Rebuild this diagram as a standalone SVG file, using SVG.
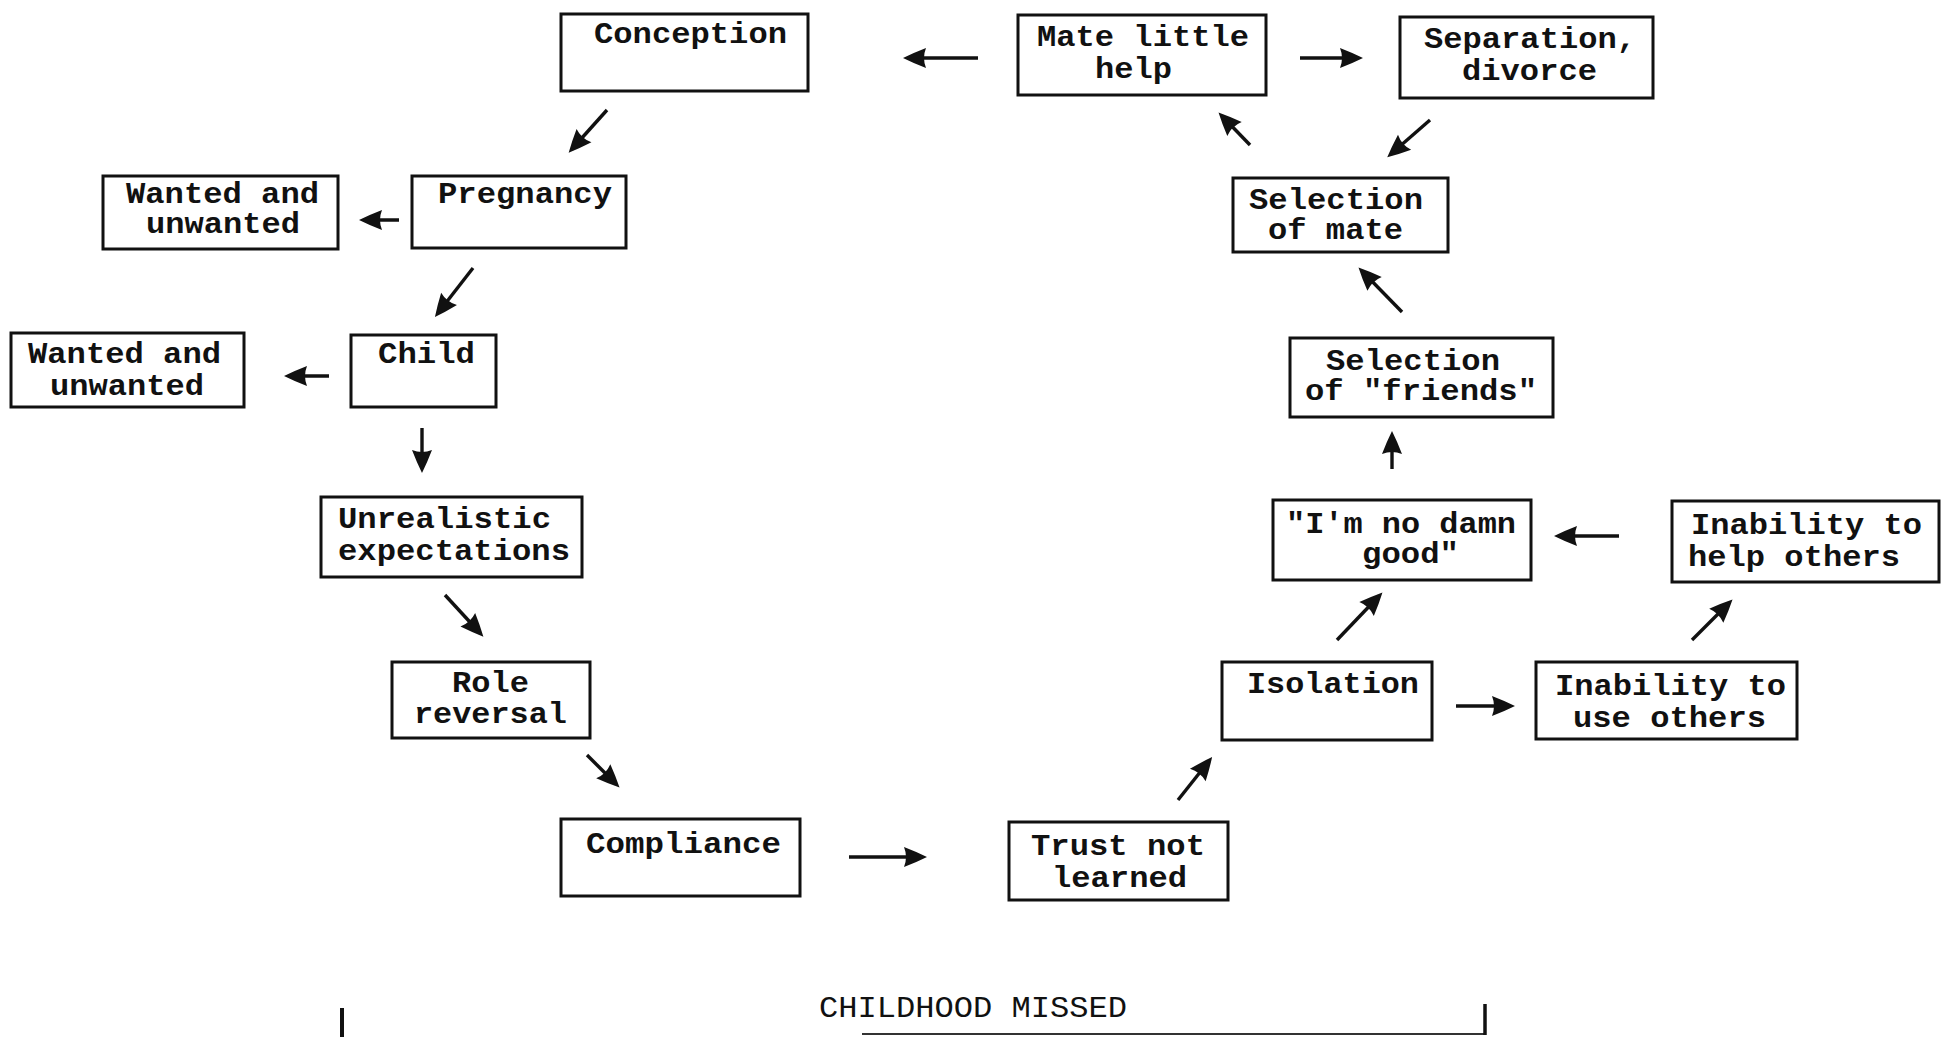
<svg xmlns="http://www.w3.org/2000/svg" width="1942" height="1037" viewBox="0 0 1942 1037">
<style>
.box{fill:#fff;stroke:#111;stroke-width:3}
.t{font-family:"Liberation Mono","DejaVu Sans Mono",monospace;font-weight:bold;font-size:29px;fill:#111}
.c{stroke:#111;stroke-width:3.4;fill:none;marker-end:url(#ah)}
</style>
<defs>
<marker id="ah" markerUnits="userSpaceOnUse" markerWidth="24" markerHeight="22" viewBox="0 0 24 22" refX="19" refY="11" orient="auto">
<path d="M1,1 Q14,6 24,11 Q14,16 1,21 Q5,11 1,1 Z" fill="#111"/>
</marker>
</defs>
<rect width="1942" height="1037" fill="#fff"/>

<g id="connectors">
<line class="c" x1="978" y1="58" x2="908" y2="58"/>
<line class="c" x1="1300" y1="58" x2="1358" y2="58"/>
<line class="c" x1="1430" y1="120" x2="1391" y2="154"/>
<line class="c" x1="1250" y1="145" x2="1222" y2="116"/>
<line class="c" x1="607" y1="110" x2="572" y2="149"/>
<line class="c" x1="399" y1="220" x2="364" y2="220"/>
<line class="c" x1="473" y1="268" x2="438" y2="313"/>
<line class="c" x1="329" y1="376" x2="289" y2="376"/>
<line class="c" x1="422" y1="428" x2="422" y2="468"/>
<line class="c" x1="445" y1="595" x2="480" y2="633"/>
<line class="c" x1="587" y1="755" x2="616" y2="784"/>
<line class="c" x1="849" y1="857" x2="922" y2="857"/>
<line class="c" x1="1178" y1="800" x2="1209" y2="761"/>
<line class="c" x1="1456" y1="706" x2="1510" y2="706"/>
<line class="c" x1="1337" y1="640" x2="1379" y2="596"/>
<line class="c" x1="1692" y1="640" x2="1729" y2="603"/>
<line class="c" x1="1619" y1="536" x2="1559" y2="536"/>
<line class="c" x1="1392" y1="469" x2="1392" y2="436"/>
<line class="c" x1="1402" y1="312" x2="1362" y2="271"/>
</g>

<g id="n-conception"><rect class="box" x="561" y="14" width="247" height="77"/><text class="t" x="594" y="43" textLength="193" lengthAdjust="spacingAndGlyphs">Conception</text></g>
<g id="n-mate"><rect class="box" x="1018" y="15" width="248" height="80"/><text class="t" x="1037" y="46" textLength="212" lengthAdjust="spacingAndGlyphs">Mate little</text><text class="t" x="1095" y="78" textLength="77" lengthAdjust="spacingAndGlyphs">help</text></g>
<g id="n-separation"><rect class="box" x="1400" y="17" width="253" height="81"/><text class="t" x="1424" y="48" textLength="212" lengthAdjust="spacingAndGlyphs">Separation,</text><text class="t" x="1462" y="80" textLength="135" lengthAdjust="spacingAndGlyphs">divorce</text></g>
<g id="n-wanted1"><rect class="box" x="103" y="176" width="235" height="73"/><text class="t" x="126" y="203" textLength="193" lengthAdjust="spacingAndGlyphs">Wanted and</text><text class="t" x="146" y="233" textLength="154" lengthAdjust="spacingAndGlyphs">unwanted</text></g>
<g id="n-pregnancy"><rect class="box" x="412" y="176" width="214" height="72"/><text class="t" x="438" y="203" textLength="174" lengthAdjust="spacingAndGlyphs">Pregnancy</text></g>
<g id="n-selmate"><rect class="box" x="1233" y="178" width="215" height="74"/><text class="t" x="1249" y="209" textLength="174" lengthAdjust="spacingAndGlyphs">Selection</text><text class="t" x="1268" y="239" textLength="135" lengthAdjust="spacingAndGlyphs">of mate</text></g>
<g id="n-wanted2"><rect class="box" x="11" y="333" width="233" height="74"/><text class="t" x="28" y="363" textLength="193" lengthAdjust="spacingAndGlyphs">Wanted and</text><text class="t" x="50" y="395" textLength="154" lengthAdjust="spacingAndGlyphs">unwanted</text></g>
<g id="n-child"><rect class="box" x="351" y="335" width="145" height="72"/><text class="t" x="378" y="363" textLength="97" lengthAdjust="spacingAndGlyphs">Child</text></g>
<g id="n-friends"><rect class="box" x="1290" y="338" width="263" height="79"/><text class="t" x="1326" y="370" textLength="174" lengthAdjust="spacingAndGlyphs">Selection</text><text class="t" x="1305" y="400" textLength="232" lengthAdjust="spacingAndGlyphs">of "friends"</text></g>
<g id="n-unrealistic"><rect class="box" x="321" y="497" width="261" height="80"/><text class="t" x="338" y="528" textLength="213" lengthAdjust="spacingAndGlyphs">Unrealistic</text><text class="t" x="338" y="560" textLength="232" lengthAdjust="spacingAndGlyphs">expectations</text></g>
<g id="n-nogood"><rect class="box" x="1273" y="500" width="258" height="80"/><text class="t" x="1286" y="533" textLength="230" lengthAdjust="spacingAndGlyphs">"I'm no damn</text><text class="t" x="1362" y="563" textLength="97" lengthAdjust="spacingAndGlyphs">good"</text></g>
<g id="n-helpothers"><rect class="box" x="1672" y="501" width="267" height="81"/><text class="t" x="1691" y="534" textLength="231" lengthAdjust="spacingAndGlyphs">Inability to</text><text class="t" x="1688" y="566" textLength="212" lengthAdjust="spacingAndGlyphs">help others</text></g>
<g id="n-role"><rect class="box" x="392" y="662" width="198" height="76"/><text class="t" x="452" y="692" textLength="77" lengthAdjust="spacingAndGlyphs">Role</text><text class="t" x="414" y="723" textLength="153" lengthAdjust="spacingAndGlyphs">reversal</text></g>
<g id="n-isolation"><rect class="box" x="1222" y="662" width="210" height="78"/><text class="t" x="1247" y="693" textLength="172" lengthAdjust="spacingAndGlyphs">Isolation</text></g>
<g id="n-useothers"><rect class="box" x="1536" y="662" width="261" height="77"/><text class="t" x="1555" y="695" textLength="231" lengthAdjust="spacingAndGlyphs">Inability to</text><text class="t" x="1573" y="727" textLength="193" lengthAdjust="spacingAndGlyphs">use others</text></g>
<g id="n-compliance"><rect class="box" x="561" y="819" width="239" height="77"/><text class="t" x="586" y="853" textLength="195" lengthAdjust="spacingAndGlyphs">Compliance</text></g>
<g id="n-trust"><rect class="box" x="1009" y="822" width="219" height="78"/><text class="t" x="1031" y="855" textLength="174" lengthAdjust="spacingAndGlyphs">Trust not</text><text class="t" x="1052" y="887" textLength="135" lengthAdjust="spacingAndGlyphs">learned</text></g>

<g id="childhood-missed">
<text class="t" x="819" y="1017" textLength="308" lengthAdjust="spacingAndGlyphs" style="font-weight:normal">CHILDHOOD MISSED</text>
<line x1="342" y1="1008" x2="342" y2="1037" stroke="#111" stroke-width="4"/>
<line x1="862" y1="1034" x2="1485" y2="1034" stroke="#333" stroke-width="2"/>
<line x1="1485" y1="1004" x2="1485" y2="1035" stroke="#111" stroke-width="3.5"/>
</g>
</svg>
